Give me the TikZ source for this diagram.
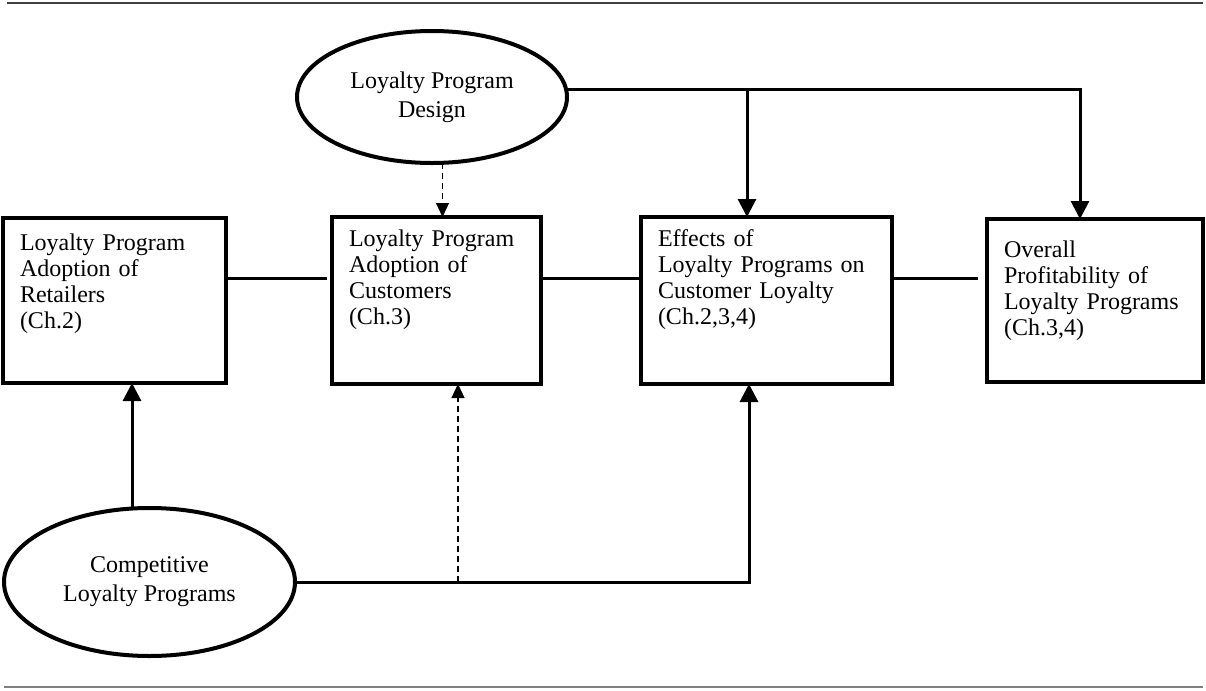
\documentclass[tikz,border=0pt]{standalone}
\usepackage{fontspec}
\setmainfont{Liberation Serif}
\usetikzlibrary{arrows.meta, positioning, shapes.geometric}

\begin{document}
\begin{tikzpicture}[x=0.5pt, y=-0.5pt,
	font=\fontsize{12}{13}\selectfont,
	blk/.style={rectangle, draw, line width=2pt, outer sep=0pt, align=left, inner xsep=8.5pt, text height=9pt},
	oval/.style={ellipse, draw, line width=2pt, outer sep=0pt, align=center, inner sep=0pt, font=\fontsize{12}{14.5}\selectfont},
	conn/.style={line width=1.5pt},
	tip/.style={-{Triangle[length=9pt, width=9pt]}},
	dtip/.style={line width=0.6pt, dash pattern=on 3pt off 2pt, -{Triangle[length=7pt, width=6.5pt]}},
	rule/.style={line width=0.75pt}]

	\useasboundingbox (0,0) rectangle (1206,691);
	\draw[rule, black!75] (7,3) -- (1203,3);
	\draw[rule, black!50, line width=1pt] (4,687) -- (1203,687);

	\node[oval, minimum width=135pt, minimum height=66pt] (design) at (432,97) {Loyalty Program\\Design};
	\node[oval, minimum width=145.5pt, minimum height=74pt] (comp) at (149.5,582) {Competitive\\Loyalty Programs};

	\node[blk, text width=94.5pt, inner ysep=7.2pt, text depth=59.1pt] (ret) at (114.5,300.5) {Loyalty Program\\Adoption of\\Retailers\\(Ch.2)};
	\node[blk, right=53pt of ret, text width=87.5pt, inner ysep=5.7pt, text depth=63.1pt] (cust) {Loyalty Program\\Adoption of\\Customers\\(Ch.3)};
	\node[blk, right=50pt of cust, text width=108.5pt, inner ysep=5.7pt, text depth=63.1pt] (eff) {Effects of\\Loyalty Programs on\\Customer Loyalty\\(Ch.2,3,4)};
	\node[blk, right=47.5pt of eff, text width=91pt, inner ysep=10.2pt, text depth=52.1pt] (prof) {Overall\\Profitability of\\Loyalty Programs\\(Ch.3,4)};

	\draw[conn, shorten >=2.5pt] ([yshift=11.25pt]ret.east) -- ([yshift=11.25pt]cust.west);
	\draw[conn] ([yshift=11.25pt]cust.east) -- ([yshift=11.25pt]eff.west);
	\draw[conn, shorten >=4.5pt] ([yshift=11.25pt]eff.east) -- ([yshift=11.25pt]prof.west);

	\coordinate (efftop) at ([xshift=-9.75pt]eff.north);
	\coordinate (custtop) at ([xshift=3pt]cust.north);
	\draw[conn, tip] (design.3) -| ([xshift=-7.5pt]prof.north);
	\draw[conn, tip] (design.3 -| efftop) -- (efftop);
	\draw[dtip] (design.south -| custtop) -- (custtop);

	\coordinate (compup) at ([xshift=-8.75pt]comp.north);
	\coordinate (cdash) at (458,582);
	\draw[conn, tip] (compup) -- (compup |- ret.south);
	\draw[conn, tip] (comp.east) -| ([xshift=-8.75pt]eff.south);
	\draw[dtip] (cdash) -- (cdash |- cust.south);
\end{tikzpicture}
\end{document}
